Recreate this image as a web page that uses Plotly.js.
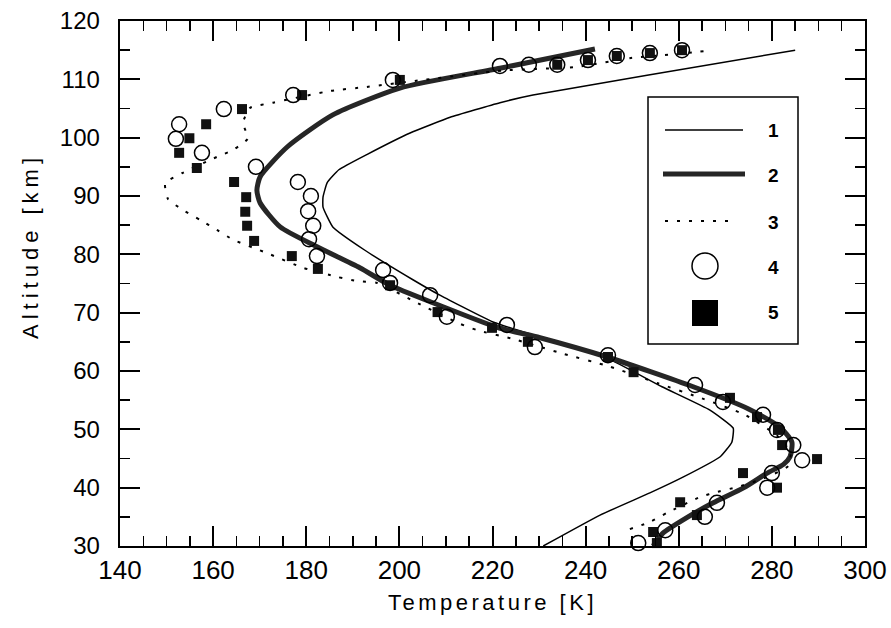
<!DOCTYPE html>
<html>
<head>
<meta charset="utf-8">
<script src="https://cdn.plot.ly/plotly-3.0.1.min.js"></script>
<style>
html,body{margin:0;padding:0;background:#fff;}
#chart{width:891px;height:628px;}
.g-xtitle text{letter-spacing:3.5px;}
</style>
</head>
<body>
<div id="chart"></div>
<script>
// Curve 1 (thin solid)
const temp1 = [230.9, 243.1, 253.8, 260.9, 268.9, 271.4, 271.7, 266.7, 256.4, 244.6, 230.2, 220.1, 208.7, 203.0, 192.6, 185.7, 183.6, 183.6, 184.5, 187.0, 193.0, 202.3, 210.9, 221.6, 228.7, 253.2, 285.0];
const alt1  = [30.0, 35.3, 39.1, 41.8, 45.3, 47.8, 50.2, 53.3, 57.3, 62.2, 65.8, 68.4, 73.0, 75.6, 80.7, 84.7, 88.1, 89.8, 92.3, 94.5, 97.1, 100.8, 103.5, 106.0, 107.3, 110.7, 115.0];
// Curve 2 (thick solid)
const temp2 = [254.5, 256.6, 262.0, 267.4, 274.0, 279.0, 282.5, 283.9, 284.3, 281.7, 275.0, 263.1, 244.6, 230.2, 221.0, 207.2, 198.0, 191.5, 182.3, 174.4, 170.1, 169.4, 170.1, 175.9, 185.7, 200.1, 221.6, 242.0];
const alt2  = [30.0, 32.2, 35.0, 37.4, 40.0, 42.5, 44.0, 45.3, 47.8, 50.4, 53.5, 57.3, 62.4, 65.7, 67.5, 71.7, 74.7, 77.7, 81.3, 84.7, 88.8, 91.0, 93.3, 98.4, 103.9, 108.5, 111.9, 115.2];
// Curve 3 (dotted)
const temp3 = [249.5, 253.8, 257.5, 264.6, 268.4, 272.5, 278.0, 283.5, 284.0, 281.0, 274.2, 265.0, 255.5, 245.0, 235.0, 224.4, 216.7, 213.0, 204.0, 195.2, 191.1, 186.8, 179.3, 171.6, 164.3, 160.8, 157.2, 153.5, 150.3, 149.7, 153.3, 160.8, 164.3, 167.5, 166.4, 167.9, 172.9, 185.1, 193.0, 205.1, 222.0, 237.7, 250.0, 257.7, 266.1];
const alt3  = [32.9, 34.1, 35.7, 38.4, 39.3, 40.1, 41.5, 43.7, 46.0, 49.0, 52.5, 55.3, 57.9, 60.8, 63.0, 65.5, 67.0, 68.1, 71.6, 75.1, 75.4, 76.1, 77.7, 80.2, 82.5, 84.2, 85.9, 87.6, 89.5, 92.2, 93.9, 96.7, 97.9, 99.9, 102.5, 105.1, 106.0, 108.0, 108.7, 109.9, 111.5, 112.1, 113.7, 114.2, 114.9];
// Series 4 (open circles)
const temp4 = [251.3, 257.1, 265.6, 268.2, 279.0, 280.0, 286.5, 284.6, 281.1, 278.1, 269.5, 263.5, 244.8, 229.1, 223.1, 210.2, 206.6, 198.0, 196.5, 182.3, 180.6, 181.5, 180.4, 181.0, 178.2, 169.2, 157.6, 152.0, 152.7, 162.3, 177.2, 198.6, 221.6, 227.8, 233.9, 240.5, 246.7, 253.8, 260.7];
const alt4  = [30.5, 32.7, 35.0, 37.4, 40.0, 42.5, 44.7, 47.3, 49.9, 52.5, 54.7, 57.6, 62.7, 64.1, 67.9, 69.3, 73.0, 75.1, 77.3, 79.7, 82.6, 84.9, 87.4, 90.0, 92.4, 95.0, 97.4, 99.8, 102.3, 104.9, 107.3, 109.9, 112.3, 112.5, 112.5, 113.3, 114.0, 114.5, 115.0];
// Series 5 (filled squares)
const temp5 = [255.3, 254.5, 263.9, 260.3, 281.1, 273.8, 289.7, 282.2, 281.3, 276.8, 271.0, 250.3, 244.8, 227.6, 219.9, 208.2, 198.0, 182.5, 176.9, 168.8, 167.3, 166.9, 167.1, 164.5, 156.5, 152.7, 154.9, 158.5, 166.2, 179.1, 200.1, 233.9, 240.5, 246.7, 253.8, 260.7];
const alt5  = [30.5, 32.4, 35.3, 37.5, 40.0, 42.5, 44.9, 47.3, 49.9, 52.1, 55.4, 59.8, 62.4, 65.0, 67.4, 70.1, 74.7, 77.5, 79.7, 82.3, 84.9, 87.3, 89.8, 92.4, 94.8, 97.4, 99.9, 102.3, 104.9, 107.3, 109.9, 112.5, 113.3, 114.0, 114.5, 115.0];
const seriesNames = ['1', '2', '3', '4', '5'];

const FONT = 'Liberation Sans, Arial, Helvetica, sans-serif';

const traces = [
  {x: temp1, y: alt1, name: seriesNames[0], mode: 'lines', type: 'scatter',
   line: {color: '#000', width: 1.5, shape: 'spline', smoothing: 0.4}},
  {x: temp2, y: alt2, name: seriesNames[1], mode: 'lines', type: 'scatter',
   line: {color: '#262626', width: 5, shape: 'spline', smoothing: 0.6}},
  {x: temp3, y: alt3, name: seriesNames[2], mode: 'lines', type: 'scatter',
   line: {color: '#000', width: 2, dash: '3px,9px', shape: 'spline', smoothing: 0.5}},
  {x: temp5, y: alt5, name: seriesNames[4], mode: 'markers', type: 'scatter', cliponaxis: false,
   marker: {symbol: 'square', size: 10, color: '#111', line: {width: 0}}},
  {x: temp4, y: alt4, name: seriesNames[3], mode: 'markers', type: 'scatter', cliponaxis: false,
   marker: {symbol: 'circle-open', size: 15, color: '#000', line: {width: 1.5, color: '#000'}}}
];

// plot area in pixels: x 120..865, y 21..546
const L = 120, R = 865, T = 21, B = 546;
const px = v => (v - L) / (R - L);
const py = v => (B - v) / (B - T);

const shapes = [
  {type: 'rect', xref: 'paper', yref: 'paper', x0: px(648), x1: px(798), y0: py(344), y1: py(97),
   line: {color: '#000', width: 1.5}, fillcolor: 'rgba(0,0,0,0)'},
  {type: 'line', xref: 'paper', yref: 'paper', x0: px(665), x1: px(743), y0: py(130), y1: py(130),
   line: {color: '#000', width: 1.5}},
  {type: 'line', xref: 'paper', yref: 'paper', x0: px(663), x1: px(745), y0: py(174), y1: py(174),
   line: {color: '#262626', width: 5}},
  {type: 'line', xref: 'paper', yref: 'paper', x0: px(665), x1: px(728), y0: py(221), y1: py(221),
   line: {color: '#000', width: 2, dash: '3px,9px'}},
  {type: 'circle', xref: 'paper', yref: 'paper', x0: px(692), x1: px(718), y0: py(279), y1: py(253),
   line: {color: '#000', width: 1.5}},
  {type: 'rect', xref: 'paper', yref: 'paper', x0: px(692), x1: px(718), y0: py(326), y1: py(300),
   line: {width: 0}, fillcolor: '#000'}
];
const labelY = [130, 175, 222, 267, 313];
const annotations = seriesNames.map((n, i) => ({
  xref: 'paper', yref: 'paper', x: px(773), y: py(labelY[i]), text: '<b>' + n + '</b>',
  showarrow: false, xanchor: 'center', yanchor: 'middle',
  font: {family: FONT, size: 19, color: '#000'}
}));
// y-axis title, placed as in the reference (slightly above the axis centre)
annotations.push({
  xref: 'paper', yref: 'paper', x: px(30), y: py(246), textangle: -90,
  text: '<span style="letter-spacing:5px">Altitude [km]</span>',
  showarrow: false, xanchor: 'center', yanchor: 'middle',
  font: {family: FONT, size: 22, color: '#000'}
});

const axisCommon = {
  showline: true, linecolor: '#000', linewidth: 2, mirror: 'ticks',
  ticks: 'inside', ticklen: 20, tickwidth: 2, tickcolor: '#000',
  showgrid: false, zeroline: false
};

const layout = {
  width: 891, height: 628,
  margin: {l: L, r: 891 - R, t: T, b: 628 - B},
  paper_bgcolor: '#fff', plot_bgcolor: '#fff',
  showlegend: false,
  xaxis: Object.assign({}, axisCommon, {
    range: [140, 300], dtick: 20, tick0: 140,
    minor: {ticks: 'inside', ticklen: 10, tickwidth: 1.5, dtick: 5, tickcolor: '#000', showgrid: false},
    tickfont: {family: FONT, size: 26, color: '#000'},
    title: {text: 'Temperature [K]', font: {family: FONT, size: 22, color: '#000'}, standoff: 10}
  }),
  yaxis: Object.assign({}, axisCommon, {
    range: [30, 120], dtick: 10, tick0: 30,
    minor: {ticks: 'inside', ticklen: 10, tickwidth: 1.5, dtick: 5, tickcolor: '#000', showgrid: false},
    tickfont: {family: FONT, size: 24, color: '#000'},
    ticksuffix: '\u00a0\u00a0'
  }),
  shapes: shapes,
  annotations: annotations
};

Plotly.newPlot('chart', traces, layout, {staticPlot: true});
</script>
</body>
</html>
